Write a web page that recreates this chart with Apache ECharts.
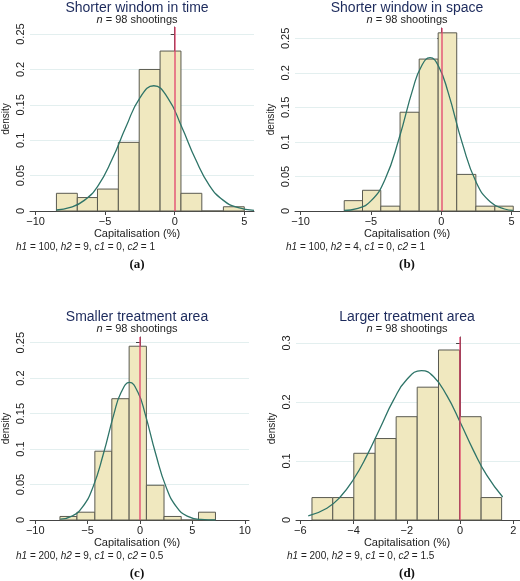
<!DOCTYPE html>
<html><head><meta charset="utf-8">
<script src="https://cdn.jsdelivr.net/npm/echarts@6/dist/echarts.min.js"></script>
<style>html,body{margin:0;padding:0;background:#fff}#c{width:520px;height:581px}</style>
</head><body><div id="c"></div>
<script>
// Panel (a)
const edgesA = [-8.5,-7.0,-5.55,-4.05,-2.55,-1.05,0.45,1.95,3.5,5.0];
const histA = [0.025,0.019,0.031,0.097,0.2,0.226,0.025,0,0.006];
const curveXA = [-8.5,-7.5,-6.5,-5.5,-4.5,-3.5,-2.5,-1.5,-0.5,0.5,1.5,2.5,3.5,4.5,5.7];
const curveYA = [0.0014,0.005,0.015,0.036,0.073,0.119,0.160,0.177,0.160,0.119,0.073,0.036,0.015,0.005,0.001];
// Panel (b)
const edgesB = [-6.9,-5.6,-4.3,-2.93,-1.57,-0.22,1.1,2.46,3.81,5.12];
const histB = [0.015,0.03,0.007,0.143,0.22,0.258,0.053,0.007,0.007];
const curveXB = [-6.9,-6,-5,-4,-3,-2,-1.4,-0.8,-0.2,0.5,1.5,2.5,3.5,4.5,5.1];
const curveYB = [0.0007,0.0034,0.0146,0.0457,0.105,0.178,0.210,0.222,0.210,0.171,0.098,0.041,0.0129,0.0029,0.001];
// Panel (c)
const edgesC = [-7.64,-6.02,-4.31,-2.69,-1.04,0.61,2.29,3.93,5.58,7.2];
const histC = [0.005,0.011,0.097,0.171,0.245,0.049,0.005,0,0.011];
const curveXC = [-7.6,-6.5,-5.5,-4.5,-3.5,-2.5,-1.8,-1,-0.2,0.5,1.5,2.5,3.5,4.5,5.8,7.2];
const curveYC = [0.0011,0.0055,0.018,0.046,0.093,0.149,0.180,0.194,0.180,0.149,0.093,0.046,0.018,0.0055,0.0008,0];
// Panel (d)
const edgesD = [-5.56,-4.78,-3.99,-3.19,-2.4,-1.61,-0.81,-0.02,0.79,1.56];
const histD = [0.038,0.038,0.113,0.138,0.175,0.225,0.288,0.175,0.038];
const curveXD = [-5.7,-5,-4.5,-4,-3.5,-3,-2.5,-2,-1.45,-1,-0.5,0,0.5,1,1.6];
const curveYD = [0.0068,0.020,0.039,0.069,0.109,0.156,0.203,0.238,0.253,0.243,0.211,0.166,0.118,0.076,0.039];
const titles = ['Shorter windom in time','Shorter window in space','Smaller treatment area','Larger treatment area'];
const notes = [['100','9','0','1'],['100','4','0','1'],['200','9','0','0.5'],['200','9','0','1.5']];
const letters = ['(a)','(b)','(c)','(d)'];
const xTicks = [[-10,-5,0,5],[-10,-5,0,5],[-10,-5,0,5,10],[-6,-4,-2,0,2]];
const yTicks = [[0,0.05,0.1,0.15,0.2,0.25],[0,0.05,0.1,0.15,0.2,0.25],[0,0.05,0.1,0.15,0.2,0.25],[0,0.1,0.2,0.3]];

const panels = [
 {e:edgesA,h:histA,cx:curveXA,cy:curveYA,grid:{left:25,top:27,width:229,height:184},x:[-10.4,5.7],y:0.26,cxp:137,ty:0},
 {e:edgesB,h:histB,cx:curveXB,cy:curveYB,grid:{left:295,top:28,width:225,height:183},x:[-10.4,5.6],y:0.265,cxp:407,ty:0},
 {e:edgesC,h:histC,cx:curveXC,cy:curveYC,grid:{left:25,top:337,width:224,height:183},x:[-10.5,10.4],y:0.258,cxp:137,ty:309},
 {e:edgesD,h:histD,cx:curveXD,cy:curveYD,grid:{left:296,top:337,width:224,height:183},x:[-6.16,2.25],y:0.31,cxp:407,ty:309}
];
const axisCol = '#444';
const grids=[],xAxes=[],yAxes=[],series=[],graphics=[];
panels.forEach((p,i)=>{
  grids.push(p.grid);
  xAxes.push({type:'value',gridIndex:i,min:p.x[0],max:p.x[1],splitLine:{show:false},
    axisLine:{lineStyle:{color:axisCol}},axisTick:{customValues:xTicks[i],length:4,lineStyle:{color:axisCol}},
    axisLabel:{customValues:xTicks[i],color:'#222',fontSize:11,fontFamily:'Liberation Sans',margin:5,formatter:v=>String(v).replace('-','\u2212')}});
  yAxes.push({type:'value',gridIndex:i,min:0,max:p.y,
    splitLine:{show:true,lineStyle:{color:'#e3efef'}},
    axisLine:{show:true,lineStyle:{color:axisCol}},axisTick:{show:true,customValues:yTicks[i],length:4,lineStyle:{color:axisCol}},
    axisLabel:{customValues:yTicks[i],rotate:90,color:'#222',fontSize:11,fontFamily:'Liberation Sans',margin:4},
    name:'density',nameLocation:'middle',nameGap:19,nameTextStyle:{color:'#222',fontSize:10,fontFamily:'Liberation Sans'}});
  const data = p.h.map((v,k)=>[p.e[k],p.e[k+1],v]);
  series.push({type:'custom',xAxisIndex:i,yAxisIndex:i,data:data,z:2,
    renderItem:(params,api)=>{
      const a=api.coord([api.value(0),api.value(2)]);
      const b=api.coord([api.value(1),0]);
      return {type:'rect',shape:{x:a[0],y:a[1],width:b[0]-a[0],height:b[1]-a[1]},
        style:{fill:'#f0e8bf',stroke:'#5a5a50',lineWidth:1}};
    }});
  series.push({type:'line',xAxisIndex:i,yAxisIndex:i,data:p.cx.map((x,k)=>[x,p.cy[k]]),smooth:true,symbol:'none',z:4,
    lineStyle:{color:'#2e7468',width:1.3},
    markLine:{silent:true,symbol:['none','none'],label:{show:false},lineStyle:{color:'#e0406a',type:'solid',width:1.5,opacity:0.85},data:[{xAxis:0}]}});
  const t=p.ty;
  graphics.push({type:'text',x:p.cxp,y:t+8,style:{text:titles[i],fill:'#1c2a5c',font:'14px "Liberation Sans"',textAlign:'center',textVerticalAlign:'middle'}});
  graphics.push({type:'text',x:p.cxp,y:t+20,style:{text:'{i|n} = 98 shootings',textAlign:'center',textVerticalAlign:'middle',
    rich:{i:{fontStyle:'italic',fontSize:11,fontFamily:'Liberation Sans',fill:'#222'}},fill:'#222',font:'11px "Liberation Sans"'}});
  graphics.push({type:'text',x:p.cxp,y:t+234,style:{text:'Capitalisation (%)',fill:'#222',font:'11px "Liberation Sans"',textAlign:'center',textVerticalAlign:'middle'}});
  const n=notes[i];
  graphics.push({type:'text',x:p.grid.left-9,y:t+247,style:{text:`{i|h1} = ${n[0]}, {i|h2} = ${n[1]}, {i|c1} = ${n[2]}, {i|c2} = ${n[3]}`,
    textVerticalAlign:'middle',fill:'#222',font:'10px "Liberation Sans"',rich:{i:{fontStyle:'italic',fontSize:10,fontFamily:'Liberation Sans',fill:'#222'}}}});
  graphics.push({type:'text',x:p.cxp,y:t+265,style:{text:letters[i],fill:'#111',font:'bold 13px "Liberation Serif"',textAlign:'center',textVerticalAlign:'middle'}});
});
const chart = echarts.init(document.getElementById('c'));
chart.setOption({animation:false,grid:grids,xAxis:xAxes,yAxis:yAxes,series:series,graphic:graphics});
</script></body></html>
